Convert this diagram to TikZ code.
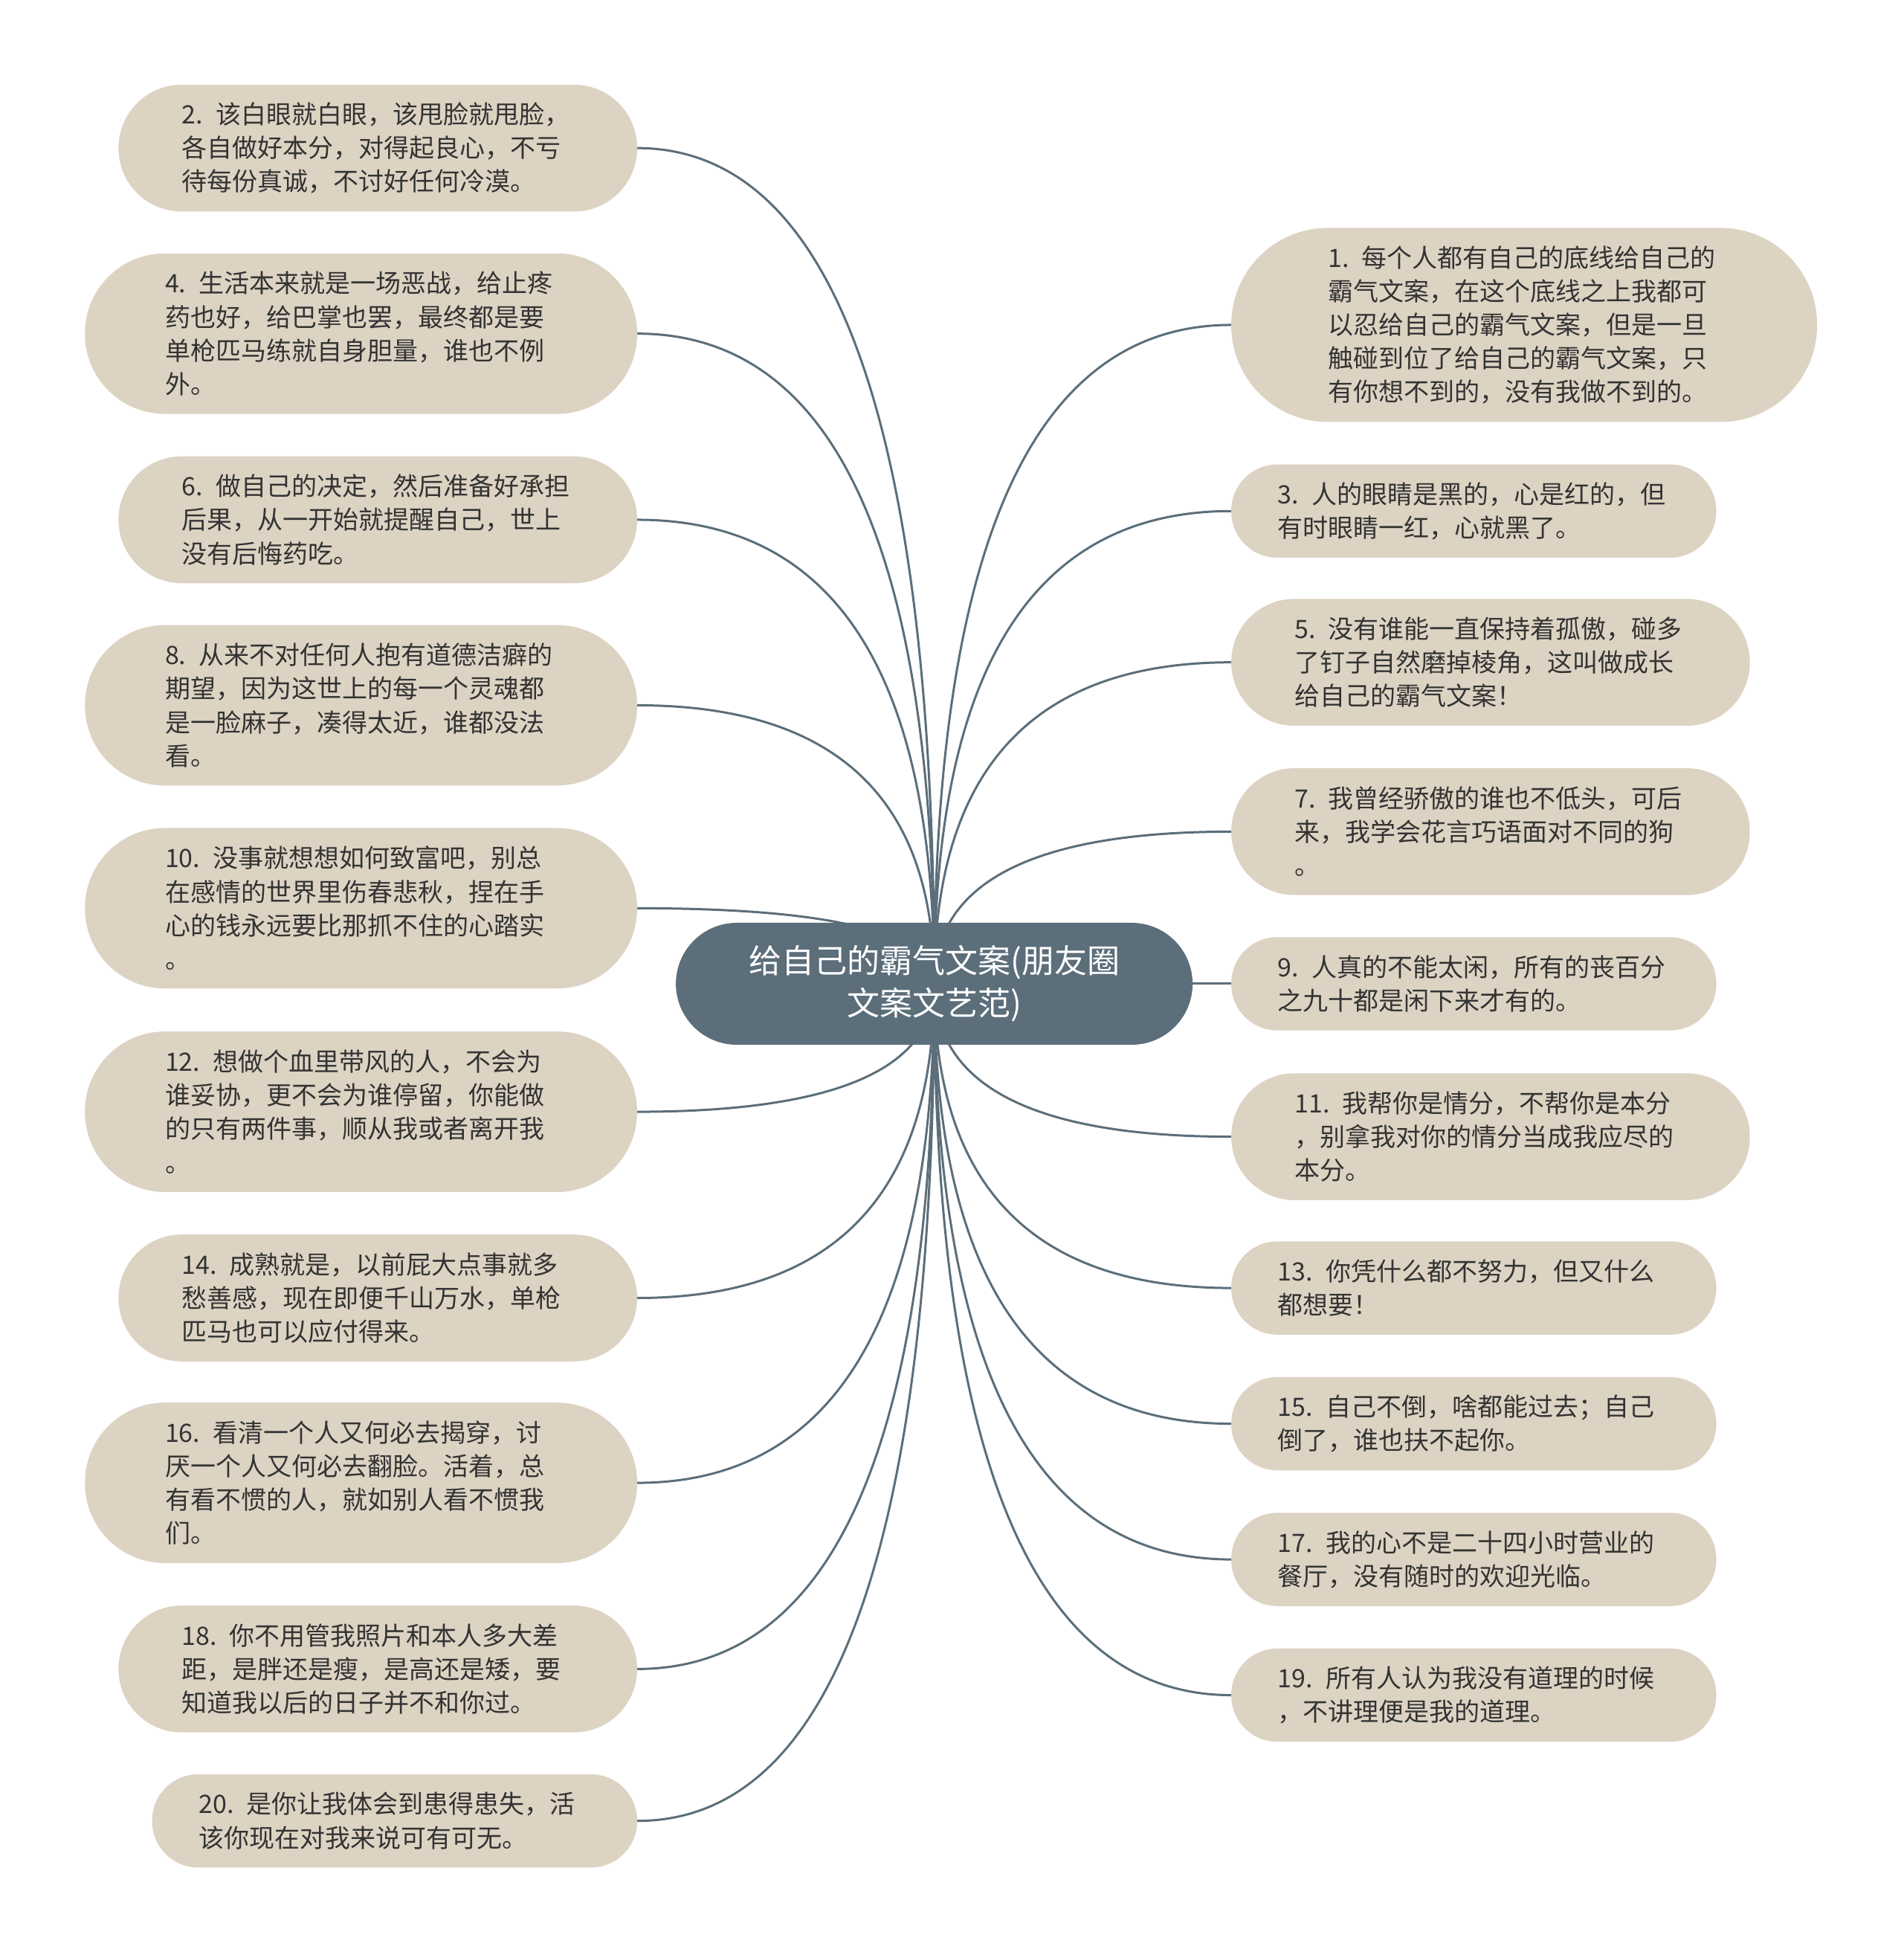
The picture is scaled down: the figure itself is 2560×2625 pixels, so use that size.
\documentclass[tikz,border=0pt]{standalone}
\usepackage{fontspec}
\setmainfont{Noto Sans CJK SC}
\usetikzlibrary{shapes.misc,calc,backgrounds}
\definecolor{rootbg}{HTML}{5B6E7A}
\definecolor{leafbg}{HTML}{DDD3C3}
\definecolor{leaftext}{HTML}{333333}
\newcommand\leaffont{\fontsize{34}{45.2}\selectfont\spaceskip=3pt\relax}
\tikzset{
  root/.style={rounded rectangle, fill=rootbg, text=white, align=center,
    minimum height=164pt, minimum width=695pt, inner sep=0pt,
    font=\fontsize{44}{57}\selectfont},
  leaf/.style={rectangle, fill=leafbg, text=leaftext, text width=527pt,
    align=left, inner ysep=0pt, font=\leaffont},
  twolines/.style={leaf, minimum height=125.4pt, inner xsep=62.7pt, rounded corners=62pt},
  threelines/.style={leaf, minimum height=170.6pt, inner xsep=85.3pt, rounded corners=85pt},
  fourlines/.style={leaf, minimum height=215.8pt, inner xsep=107.9pt, rounded corners=107.5pt},
  fivelines/.style={leaf, minimum height=261pt, inner xsep=130.5pt, rounded corners=130pt},
  branch/.style={draw=rootbg, line width=3pt},
}

\begin{document}
\begin{tikzpicture}[x=1pt,y=1pt]
\useasboundingbox (0,0) rectangle (2560,2625);

\node[root] (root) at (1256.6,1302) {给自己的霸气文案(朋友圈\\文案文艺范)};

% left side
\node[threelines, anchor=east] (l2) at (857.2,2425.8) {2. 该白眼就白眼，该甩脸就甩脸，\\各自做好本分，对得起良心，不亏\\待每份真诚，不讨好任何冷漠。};
\node[fourlines, anchor=east] (l4) at (857.2,2176.3) {4. 生活本来就是一场恶战，给止疼\\药也好，给巴掌也罢，最终都是要\\单枪匹马练就自身胆量，谁也不例\\外。};
\node[threelines, anchor=east] (l6) at (857.2,1926.0) {6. 做自己的决定，然后准备好承担\\后果，从一开始就提醒自己，世上\\没有后悔药吃。};
\node[fourlines, anchor=east] (l8) at (857.2,1676.5) {8. 从来不对任何人抱有道德洁癖的\\期望，因为这世上的每一个灵魂都\\是一脸麻子，凑得太近，谁都没法\\看。};
\node[fourlines, anchor=east] (l10) at (857.2,1403.6) {10. 没事就想想如何致富吧，别总\\在感情的世界里伤春悲秋，捏在手\\心的钱永远要比那抓不住的心踏实\\。};
\node[fourlines, anchor=east] (l12) at (857.2,1129.9) {12. 想做个血里带风的人，不会为\\谁妥协，更不会为谁停留，你能做\\的只有两件事，顺从我或者离开我\\。};
\node[threelines, anchor=east] (l14) at (857.2,879.5) {14. 成熟就是，以前屁大点事就多\\愁善感，现在即便千山万水，单枪\\匹马也可以应付得来。};
\node[fourlines, anchor=east] (l16) at (857.2,630.9) {16. 看清一个人又何必去揭穿，讨\\厌一个人又何必去翻脸。活着，总\\有看不惯的人，就如别人看不惯我\\们。};
\node[threelines, anchor=east] (l18) at (857.2,380.6) {18. 你不用管我照片和本人多大差\\距，是胖还是瘦，是高还是矮，要\\知道我以后的日子并不和你过。};
\node[twolines, anchor=east] (l20) at (857.2,176.3) {20. 是你让我体会到患得患失，活\\该你现在对我来说可有可无。};

% right side
\node[fivelines, anchor=west] (r1) at (1655.9,2188.0) {1. 每个人都有自己的底线给自己的\\霸气文案，在这个底线之上我都可\\以忍给自己的霸气文案，但是一旦\\触碰到位了给自己的霸气文案，只\\有你想不到的，没有我做不到的。};
\node[twolines, anchor=west] (r3) at (1655.9,1937.7) {3. 人的眼睛是黑的，心是红的，但\\有时眼睛一红，心就黑了。};
\node[threelines, anchor=west] (r5) at (1655.9,1734.3) {5. 没有谁能一直保持着孤傲，碰多\\了钉子自然磨掉棱角，这叫做成长\\给自己的霸气文案！};
\node[threelines, anchor=west] (r7) at (1655.9,1506.6) {7. 我曾经骄傲的谁也不低头，可后\\来，我学会花言巧语面对不同的狗\\。};
\node[twolines, anchor=west] (r9) at (1655.9,1302) {9. 人真的不能太闲，所有的丧百分\\之九十都是闲下来才有的。};
\node[threelines, anchor=west] (r11) at (1655.9,1096.4) {11. 我帮你是情分，不帮你是本分\\，别拿我对你的情分当成我应尽的\\本分。};
\node[twolines, anchor=west] (r13) at (1655.9,892.9) {13. 你凭什么都不努力，但又什么\\都想要！};
\node[twolines, anchor=west] (r15) at (1655.9,710.4) {15. 自己不倒，啥都能过去；自己\\倒了，谁也扶不起你。};
\node[twolines, anchor=west] (r17) at (1655.9,527.9) {17. 我的心不是二十四小时营业的\\餐厅，没有随时的欢迎光临。};
\node[twolines, anchor=west] (r19) at (1655.9,345.4) {19. 所有人认为我没有道理的时候\\，不讲理便是我的道理。};

\begin{pgfonlayer}{background}
\foreach \n in {2,4,...,20} {
  \coordinate (k\n) at (root.center |- l\n.east);
  \draw[branch] (root.center) .. controls ($(root.center)!2/3!(k\n)$) and ($(l\n.east)!2/3!(k\n)$) .. (l\n.east);
}
\foreach \n in {1,3,...,19} {
  \coordinate (k\n) at (root.center |- r\n.west);
  \draw[branch] (root.center) .. controls ($(root.center)!2/3!(k\n)$) and ($(r\n.west)!2/3!(k\n)$) .. (r\n.west);
}
\end{pgfonlayer}
\end{tikzpicture}
\end{document}
